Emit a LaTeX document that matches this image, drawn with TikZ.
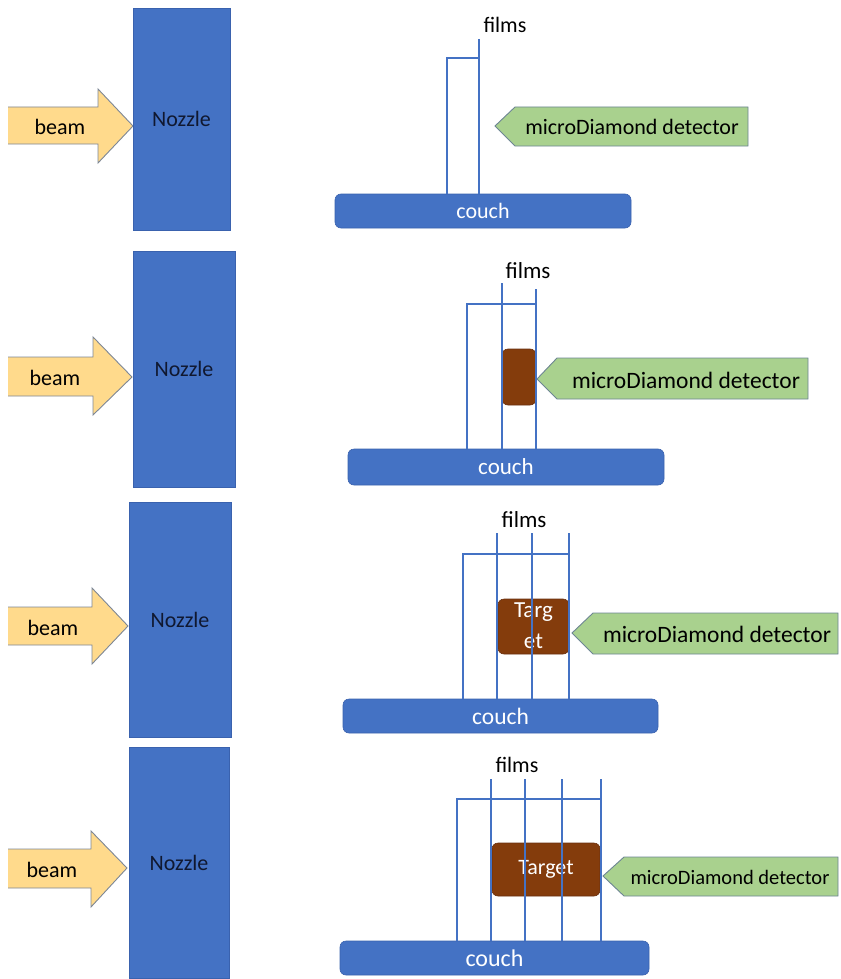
\documentclass[tikz,border=0pt]{standalone}
\usepackage{fontspec}
\setmainfont{Carlito}
\definecolor{nozblue}{HTML}{4472C4}
\definecolor{nozedge}{HTML}{3A62AE}
\definecolor{beamfill}{HTML}{FFDA8C}
\definecolor{beamedge}{HTML}{7D8796}
\definecolor{detfill}{HTML}{A9D18E}
\definecolor{detedge}{HTML}{6D8593}
\definecolor{tgtfill}{HTML}{843C0C}
\definecolor{tgtedge}{HTML}{6A3010}
\definecolor{noztext}{HTML}{101830}
\begin{document}
\begin{tikzpicture}[x=1pt,y=-1pt,
  txt/.style={font=\fontsize{22}{26}\selectfont, inner sep=0pt, outer sep=0pt},
  nozzlebox/.style={txt, fill=nozblue, draw=nozedge, line width=0.6pt, text=noztext},
  couchbox/.style={txt, fill=nozblue, draw=nozedge, line width=0.6pt, rounded corners=6pt, text=white},
  tgtbox/.style={txt, fill=tgtfill, draw=tgtedge, line width=0.6pt, rounded corners=6pt, text=white, align=center},
  beamshape/.style={fill=beamfill},
  beamline/.style={draw=beamedge, line width=0.9pt, line join=miter},
  detshape/.style={fill=detfill, draw=detedge, line width=0.9pt},
  film/.style={draw=nozblue, line width=1.1pt},
]
\useasboundingbox (0,0) rectangle (840,979);

% ---------------- Panel 1 ----------------
\fill[beamshape] (8,107) -- (98,107) -- (98,89) -- (133,126) -- (98,163) -- (98,144) -- (8,144) -- cycle;
\draw[beamline] (8,107) -- (98,107) -- (98,89) -- (133,126) -- (98,163) -- (98,144) -- (8,144);
\node[txt] (beam1) at (60,127) {beam};
\node[nozzlebox, minimum width=97pt, minimum height=222pt] (noz1) at (181.5,119) {Nozzle};
\node[txt] (films1) at (505,25) {films};
\coordinate (f1a) at (479,39);
\coordinate (b1) at (447,58);
\node[couchbox, minimum width=296pt, minimum height=34pt] (couch1) at (483,211) {couch};
\draw[film] (f1a) -- (f1a |- couch1.north);
\draw[film] (b1 -| f1a) -- (b1) -- (b1 |- couch1.north);
\draw[detshape] (495,126) -- (515,107) -- (748,107) -- (748,146) -- (515,146) -- cycle;
\node[txt] (det1) at (632,127) {microDiamond detector};

% ---------------- Panel 2 ----------------
\fill[beamshape] (8,357) -- (93,357) -- (93,337) -- (132,377) -- (93,415) -- (93,396) -- (8,396) -- cycle;
\draw[beamline] (8,357) -- (93,357) -- (93,337) -- (132,377) -- (93,415) -- (93,396) -- (8,396);
\node[txt] (beam2) at (55,378) {beam};
\node[nozzlebox, minimum width=102pt, minimum height=236pt] (noz2) at (184,369) {Nozzle};
\node[txt, font=\fontsize{23}{27}\selectfont] (films2) at (528,271) {films};
\node[tgtbox, minimum width=34pt, minimum height=56pt] (tgt2) at (519,377) {};
\node[couchbox, minimum width=316pt, minimum height=36pt, font=\fontsize{23}{27}\selectfont] (couch2) at (506,467) {couch};
\coordinate (f2a) at (502,283);
\coordinate (f2b) at (536,289);
\coordinate (b2) at (467,304);
\draw[film] (f2a) -- (f2a |- couch2.north);
\draw[film] (f2b) -- (f2b |- couch2.north);
\draw[film] (b2 -| f2b) -- (b2) -- (b2 |- couch2.north);
\draw[detshape] (537,379) -- (557,358) -- (808,358) -- (808,399) -- (557,399) -- cycle;
\node[txt, font=\fontsize{23.5}{27}\selectfont] (det2) at (686,380) {microDiamond detector};

% ---------------- Panel 3 ----------------
\fill[beamshape] (8,607) -- (92,607) -- (92,588) -- (128,626) -- (92,664) -- (92,645) -- (8,645) -- cycle;
\draw[beamline] (8,607) -- (92,607) -- (92,588) -- (128,626) -- (92,664) -- (92,645) -- (8,645);
\node[txt] (beam3) at (53,628) {beam};
\node[nozzlebox, minimum width=102pt, minimum height=235pt] (noz3) at (180,619.5) {Nozzle};
\node[txt, font=\fontsize{23}{27}\selectfont] (films3) at (524,520) {films};
\node[tgtbox, minimum width=71pt, minimum height=55pt] (tgt3) at (533.5,626.5) {};
\node[txt, text=white, font=\fontsize{23}{27}\selectfont] (tgt3a) at (533.5,612) {Targ};
\node[txt, text=white, font=\fontsize{23}{27}\selectfont] (tgt3b) at (533.5,641) {et};
\node[couchbox, minimum width=315pt, minimum height=34pt, font=\fontsize{23.5}{27}\selectfont] (couch3) at (500.5,716) {couch};
\coordinate (f3a) at (497,533);
\coordinate (f3b) at (532,533);
\coordinate (f3c) at (569,533);
\coordinate (b3) at (463,554);
\draw[film] (f3a) -- (f3a |- couch3.north);
\draw[film] (f3b) -- (f3b |- couch3.north);
\draw[film] (f3c) -- (f3c |- couch3.north);
\draw[film] (b3 -| f3c) -- (b3) -- (b3 |- couch3.north);
\draw[detshape] (572,633) -- (593,613) -- (838,613) -- (838,654) -- (593,654) -- cycle;
\node[txt, font=\fontsize{23.5}{27}\selectfont] (det3) at (717,634) {microDiamond detector};

% ---------------- Panel 4 ----------------
\fill[beamshape] (8,849) -- (91,849) -- (91,831) -- (127,868) -- (91,907) -- (91,888) -- (8,888) -- cycle;
\draw[beamline] (8,849) -- (91,849) -- (91,831) -- (127,868) -- (91,907) -- (91,888) -- (8,888);
\node[txt] (beam4) at (52,870) {beam};
\node[nozzlebox, minimum width=100pt, minimum height=231pt] (noz4) at (179,862.5) {Nozzle};
\node[txt] (films4) at (517,765) {films};
\node[tgtbox, minimum width=108pt, minimum height=53pt] (tgt4) at (546,869.5) {Target};
\node[couchbox, minimum width=309pt, minimum height=34pt, font=\fontsize{24}{27}\selectfont] (couch4) at (494.5,958) {couch};
\coordinate (f4a) at (491,779);
\coordinate (f4b) at (525,779);
\coordinate (f4c) at (562,779);
\coordinate (f4d) at (601,779);
\coordinate (b4) at (457,799);
\draw[film] (f4a) -- (f4a |- couch4.north);
\draw[film] (f4b) -- (f4b |- couch4.north);
\draw[film] (f4c) -- (f4c |- couch4.north);
\draw[film] (f4d) -- (f4d |- couch4.north);
\draw[film] (b4 -| f4d) -- (b4) -- (b4 |- couch4.north);
\draw[detshape] (603,876) -- (624,857) -- (838,857) -- (838,896) -- (624,896) -- cycle;
\node[txt, font=\fontsize{20.5}{24}\selectfont] (det4) at (730,877) {microDiamond detector};
\end{tikzpicture}
\end{document}
